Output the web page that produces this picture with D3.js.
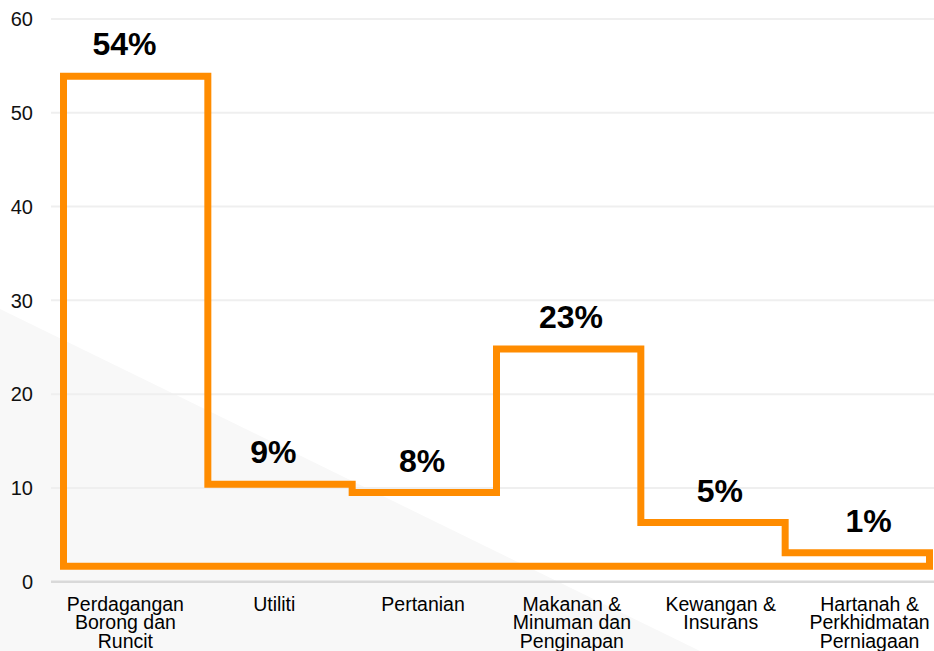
<!DOCTYPE html>
<html><head><meta charset="utf-8">
<script src="https://cdn.jsdelivr.net/npm/d3@7"></script>
<style>html,body{margin:0;padding:0;background:#fff;overflow:hidden}</style>
</head><body>
<svg id="c" width="934" height="651"></svg>
<script>
const categories = [
  ["Perdagangan","Borong dan","Runcit"],
  ["Utiliti"],
  ["Pertanian"],
  ["Makanan &","Minuman dan","Penginapan"],
  ["Kewangan &","Insurans"],
  ["Hartanah &","Perkhidmatan","Perniagaan"]
];
const percentLabels = ["54%","9%","8%","23%","5%","1%"];
const stepTops = [53.9, 10.4, 9.5, 24.8, 6.3, 3.1];
const stepBase = 1.65;
const yTicks = [0,10,20,30,40,50,60];

(function(){
const svg = d3.select("#c");
const W = 934, H = 651;
const mLeft = 51, mRight = 944, mTop = 19, mBottom = 581.7;

// faint background shading
svg.append("path").attr("d", `M0,309 L700,${H} L0,${H} Z`).attr("fill","#f8f8f8");

const y = d3.scaleLinear().domain([0,60]).range([mBottom, mTop]);
const x = d3.scaleBand().domain(d3.range(categories.length)).range([mLeft, mRight]).padding(0);
const xs = d3.scaleLinear().domain([0, stepTops.length]).range([63.5, 929.5]);

// gridlines
svg.append("g").selectAll("line").data(yTicks).join("line")
  .attr("x1", mLeft).attr("x2", W)
  .attr("y1", d => y(d)).attr("y2", d => y(d))
  .attr("stroke", d => d === 0 ? "#d9d9d9" : "#efefef")
  .attr("stroke-width", d => d === 0 ? 2.5 : 2);

// y tick labels
svg.append("g").selectAll("text").data(yTicks).join("text")
  .attr("x", 33).attr("y", d => y(d) + 2)
  .attr("text-anchor","end").attr("dominant-baseline","middle")
  .attr("font-family","'Liberation Sans', Arial, sans-serif").attr("font-size",20)
  .attr("fill","#111").text(d => d);

// step outline
const pts = [];
pts.push([xs(0), y(stepBase)]);
stepTops.forEach((v,i) => { pts.push([xs(i), y(v)]); pts.push([xs(i+1), y(v)]); });
pts.push([xs(stepTops.length), y(stepBase)]);
svg.append("path")
  .attr("d", d3.line()(pts) + "Z")
  .attr("fill","none").attr("stroke","#FF8C00").attr("stroke-width",7)
  .attr("stroke-linejoin","miter");

// percent labels
svg.append("g").selectAll("text").data(percentLabels).join("text")
  .attr("x", (d,i) => x(i) + x.bandwidth()/2 - 1)
  .attr("y", (d,i) => y(stepTops[i]) - 21)
  .attr("text-anchor","middle")
  .attr("font-family","'Liberation Sans', Arial, sans-serif").attr("font-weight","bold")
  .attr("font-size",32).attr("fill","#000").text(d => d);

// category labels
const cg = svg.append("g").selectAll("text").data(categories).join("text")
  .attr("text-anchor","middle")
  .attr("font-family","'Liberation Sans', Arial, sans-serif").attr("font-size",19.5)
  .attr("fill","#000");
cg.each(function(lines, i){
  const t = d3.select(this);
  lines.forEach((l, j) => {
    t.append("tspan").attr("x", x(i) + x.bandwidth()/2).attr("y", 611 + j*18.3).text(l);
  });
});
})();
</script>
</body></html>
